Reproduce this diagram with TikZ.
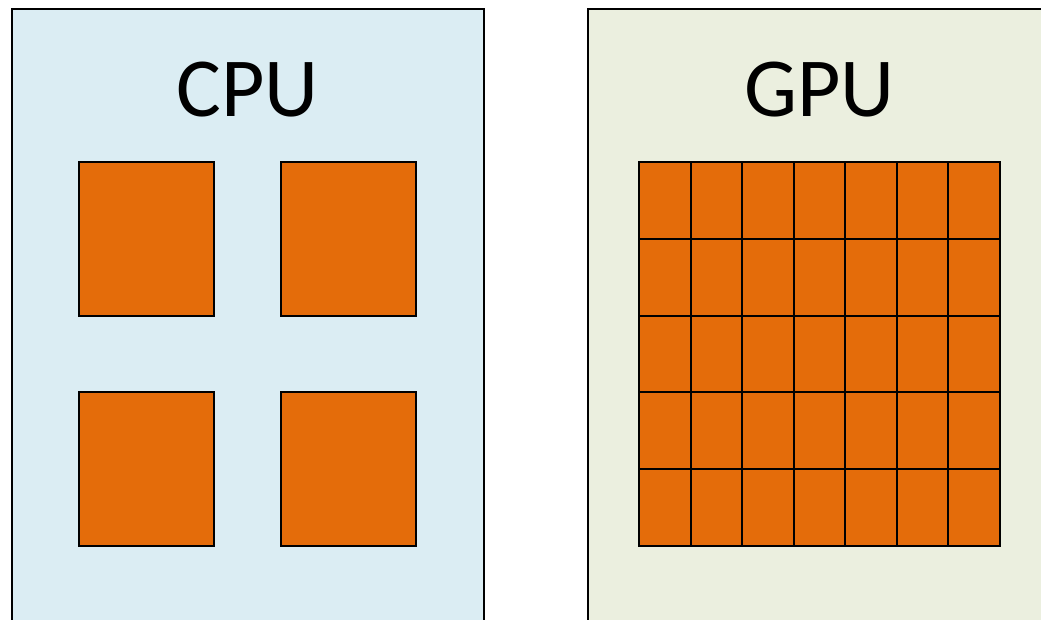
\documentclass[tikz,border=0pt]{standalone}
\usepackage{fontspec}
\setmainfont{Carlito}
\definecolor{cpufill}{HTML}{DBEDF3}
\definecolor{gpufill}{HTML}{EBEFDF}
\definecolor{corefill}{HTML}{E46C0A}
\begin{document}
\begin{tikzpicture}[x=1pt,y=-1pt,
  chip/.style={draw=black,line width=2pt},
  core/.style={draw=black,line width=2pt,fill=corefill,inner sep=0pt,outer sep=0pt},
  title/.style={font=\fontsize{84}{100}\selectfont,anchor=base,inner sep=0pt}]
\useasboundingbox (0,0) rectangle (1041,619);
\clip (0,0) rectangle (1041,619);
% processor outlines, running past the lower edge
\draw[chip,fill=cpufill] (12,9) rectangle (484,640);
\draw[chip,fill=gpufill] (588,9) rectangle (1060,640);
\node[title] (cputitle) at (247.5,116) {CPU};
\node[title] (gputitle) at (819.5,116) {GPU};
% four large CPU cores
\foreach \i/\x in {0/79,1/281}
  \foreach \j/\y in {0/162,1/392}
    \node[core,minimum width=135pt,minimum height=154pt,anchor=north west]
      (cpu-\i-\j) at (\x,\y) {};
% 7 x 5 grid of small GPU cores
\foreach \i in {0,...,6}
  \foreach \j in {0,...,4}
    \node[core,minimum width=51.57pt,minimum height=76.8pt,anchor=north west]
      (gpu-\i-\j) at ({639+51.57*\i},{162+76.8*\j}) {};
\end{tikzpicture}
\end{document}
